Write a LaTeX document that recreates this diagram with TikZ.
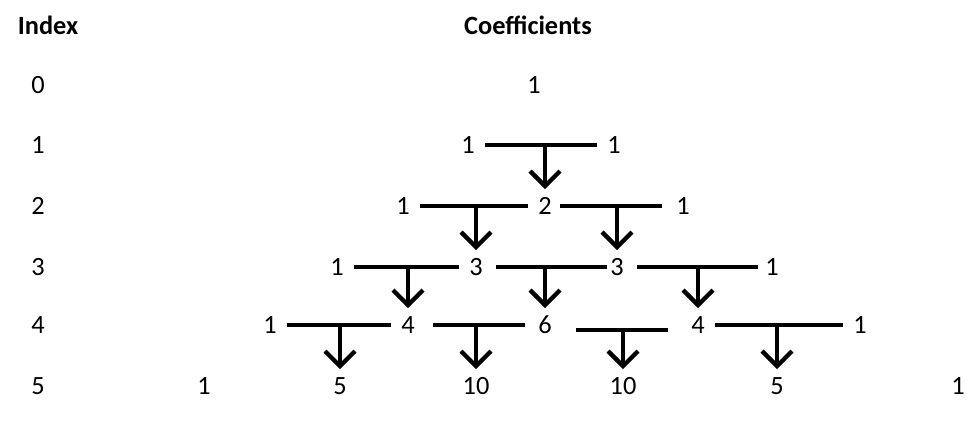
\documentclass[tikz,border=0pt]{standalone}
\usepackage{fontspec}
\setmainfont{Carlito}
\usetikzlibrary{arrows.meta}

\begin{document}
\begin{tikzpicture}[x=0.02cm,y=-0.02cm,
  num/.style={font=\fontsize{15}{18}\selectfont},
  head/.style={font=\fontsize{15}{18}\selectfont\bfseries},
  bar/.style={line width=0.85mm,shorten <=3.4mm,shorten >=3.4mm},
  down/.style={line width=0.85mm,-{Straight Barb[length=3mm,width=6mm]},shorten >=3.4mm}]

\useasboundingbox (0,0) rectangle (974,424);

% headers
\node[head] (idx) at (48,25) {Index};
\node[head] (coef) at (528,25) {Coefficients};

% index column
\node[num] (i0) at (38,85) {0};
\node[num] (i1) at (38,145) {1};
\node[num] (i2) at (38,206) {2};
\node[num] (i3) at (38,267) {3};
\node[num] (i4) at (38,325) {4};
\node[num] (i5) at (38,386) {5};

% coefficients
\node[num] (r0a) at (534,85) {1};

\node[num] (r1a) at (468,145) {1};
\node[num] (r1b) at (614,145) {1};

\node[num] (r2a) at (403,206) {1};
\node[num] (r2b) at (545,206) {2};
\node[num] (r2c) at (683,206) {1};

\node[num] (r3a) at (337,267) {1};
\node[num] (r3b) at (476,267) {3};
\node[num] (r3c) at (617,267) {3};
\node[num] (r3d) at (772,267) {1};

\node[num] (r4a) at (270,325) {1};
\node[num] (r4b) at (408,325) {4};
\node[num] (r4c) at (545,325) {6};
\node[num] (r4d) at (698,325) {4};
\node[num] (r4e) at (860,325) {1};

\node[num] (r5a) at (204,386) {1};
\node[num] (r5b) at (340,386) {5};
\node[num] (r5c) at (476,386) {10};
\node[num] (r5d) at (623,386) {10};
\node[num] (r5e) at (777,386) {5};
\node[num] (r5f) at (958,386) {1};

% bars
\draw[bar] (r1a.center) -- (r1b.center);

\draw[bar] (r2a.center) -- (r2b.center);
\draw[bar,shorten <=3mm,shorten >=4.2mm] (r2b.center) -- (r2c.center);

\draw[bar] (r3a.center) -- (r3b.center);
\draw[bar,shorten <=4mm,shorten >=2mm] (r3b.center) -- (r3c.center);
\draw[bar,shorten <=4mm,shorten >=2.8mm] (r3c.center) -- (r3d.center);

\draw[bar] (r4a.center) -- (r4b.center);
\draw[bar,shorten <=5mm,shorten >=4mm] (r4b.center) -- (r4c.center);
\draw[bar,shorten <=6.2mm,shorten >=6mm] ([yshift=-1mm]r4c.center) -- ([yshift=-1mm]r4d.center);
\draw[bar] (r4d.center) -- (r4e.center);
\coordinate (b4c) at (623,330);

% arrows
\draw[down] (r2b |- r1a) -- (r2b.center);

\draw[down] (r3b |- r2a) -- (r3b.center);
\draw[down] (r3c |- r2a) -- (r3c.center);

\draw[down] (r4b |- r3a) -- (r4b.center);
\draw[down] (r4c |- r3a) -- (r4c.center);
\draw[down] (r4d |- r3a) -- (r4d.center);

\draw[down] (r5b |- r4a) -- (r5b.center);
\draw[down] (r5c |- r4a) -- (r5c.center);
\draw[down] (r5d |- b4c) -- (r5d.center);
\draw[down] (r5e |- r4a) -- (r5e.center);
\end{tikzpicture}
\end{document}
